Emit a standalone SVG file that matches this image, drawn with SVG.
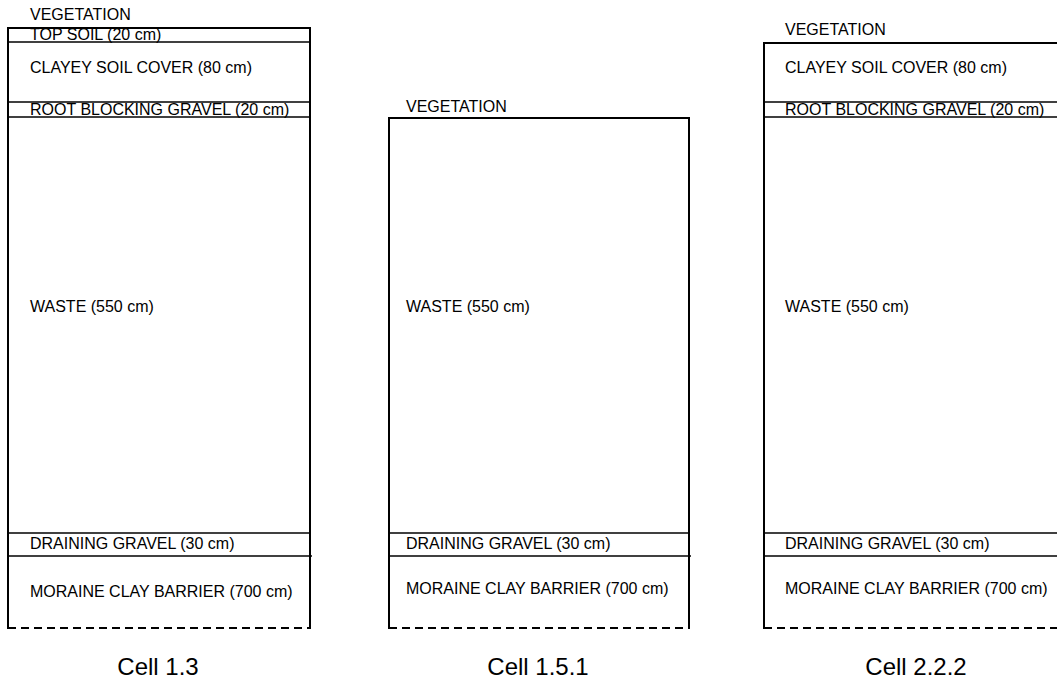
<svg xmlns="http://www.w3.org/2000/svg" width="1057" height="684" viewBox="0 0 1057 684">
<style>
.t{font-family:"Liberation Sans",Arial,sans-serif;font-size:16px;fill:#000}
.c{font-family:"Liberation Sans",Arial,sans-serif;font-size:24px;fill:#000;text-anchor:middle}
.b{stroke:#000;stroke-width:2;fill:none}
.l{stroke:#000;stroke-width:1.5;fill:none}
.d{stroke:#000;stroke-width:2;fill:none;stroke-dasharray:8 5}
</style>
<rect width="1057" height="684" fill="#fff"/>
<g id="cell13">
<text class="t" x="30" y="20">VEGETATION</text>
<path class="b" d="M8,629 V28 H310 V629"/>
<line class="l" x1="8" y1="42" x2="310" y2="42"/>
<line class="l" x1="8" y1="102" x2="310" y2="102"/>
<line class="l" x1="8" y1="117" x2="310" y2="117"/>
<line class="l" x1="8" y1="533" x2="310" y2="533"/>
<line class="l" x1="8" y1="556" x2="312" y2="556"/>
<line class="d" x1="8" y1="628" x2="310" y2="628"/>
<text class="t" x="30" y="40">TOP SOIL (20 cm)</text>
<text class="t" x="30" y="73">CLAYEY SOIL COVER (80 cm)</text>
<text class="t" x="30" y="115">ROOT BLOCKING GRAVEL (20 cm)</text>
<text class="t" x="30" y="312">WASTE (550 cm)</text>
<text class="t" x="30" y="549">DRAINING GRAVEL (30 cm)</text>
<text class="t" x="30" y="597">MORAINE CLAY BARRIER (700 cm)</text>
<text class="c" x="158" y="675">Cell 1.3</text>
</g>
<g id="cell151">
<text class="t" x="406" y="112">VEGETATION</text>
<path class="b" d="M389,629 V118 H689 V629"/>
<line class="l" x1="389" y1="533" x2="689" y2="533"/>
<line class="l" x1="389" y1="556" x2="691" y2="556"/>
<line class="d" x1="389" y1="628" x2="689" y2="628"/>
<text class="t" x="406" y="312">WASTE (550 cm)</text>
<text class="t" x="406" y="549">DRAINING GRAVEL (30 cm)</text>
<text class="t" x="406" y="594">MORAINE CLAY BARRIER (700 cm)</text>
<text class="c" x="538" y="675">Cell 1.5.1</text>
</g>
<g id="cell222">
<text class="t" x="785" y="35">VEGETATION</text>
<path class="b" d="M764,629 V43 H1060"/>
<line class="l" x1="764" y1="102" x2="1057" y2="102"/>
<line class="l" x1="764" y1="117" x2="1057" y2="117"/>
<line class="l" x1="764" y1="533" x2="1057" y2="533"/>
<line class="l" x1="764" y1="556" x2="1057" y2="556"/>
<line class="d" x1="764" y1="628" x2="1057" y2="628"/>
<text class="t" x="785" y="73">CLAYEY SOIL COVER (80 cm)</text>
<text class="t" x="785" y="115">ROOT BLOCKING GRAVEL (20 cm)</text>
<text class="t" x="785" y="312">WASTE (550 cm)</text>
<text class="t" x="785" y="549">DRAINING GRAVEL (30 cm)</text>
<text class="t" x="785" y="594">MORAINE CLAY BARRIER (700 cm)</text>
<text class="c" x="916" y="675">Cell 2.2.2</text>
</g>
<g id="connectors"></g>
</svg>
